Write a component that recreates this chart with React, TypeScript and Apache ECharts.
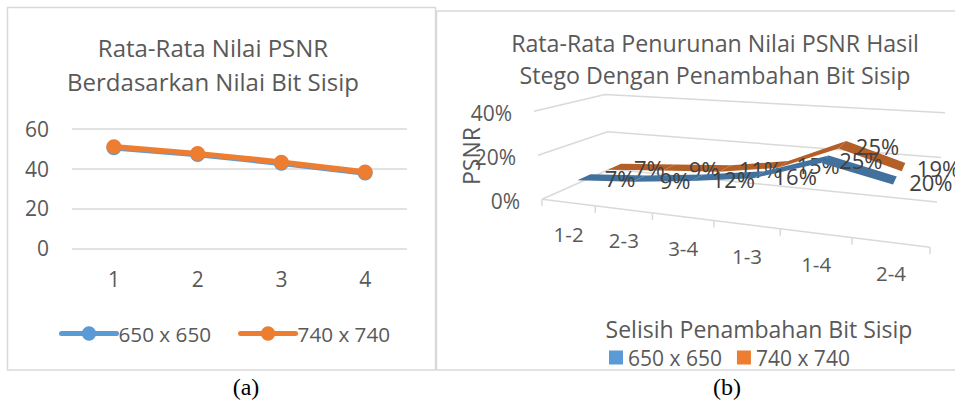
import React, { useEffect, useRef } from "react";
import * as echarts from "echarts";

const LEFT_TITLE = "Rata-Rata Nilai PSNR\nBerdasarkan Nilai Bit Sisip";
const RIGHT_TITLE = "Rata-Rata Penurunan Nilai PSNR Hasil\nStego Dengan Penambahan Bit Sisip";
const leftCategories = ["1", "2", "3", "4"];
const left650 = [50.5, 47, 42.7, 37.8];
const left740 = [51, 47.5, 43.2, 38.3];
const rightCategories = ["1-2", "2-3", "3-4", "1-3", "1-4", "2-4"];
const right650 = [7, 9, 12, 16, 25, 20];
const right740 = [7, 9, 11, 15, 25, 19];
const rightTicks = [0, 20, 40];

const FONT = '"Open Sans"';
const GREY = "#595959";
const LINE = "#d9d9d9";
const BLUE = "#5B9BD5";
const ORANGE = "#ED7D31";
const RIGHT_GRID = { left: 542, width: 388, top: 100, height: 104 };
const lerp = (a: number, b: number, t: number) => a + (b - a) * t;

// Perspective warp of the category direction; weaker towards the back wall.
const warp = (t: number, d: number) => {
  const k = 1 + 0.257 * (1 - d);
  return t / (t + k * (1 - t));
};
// Floor position for category fraction t and depth d (0 front, 1 back).
const floor = (t: number, d: number) => {
  const f = warp(t, d);
  return [
    lerp(lerp(542, 610, d), lerp(930, 937, d), f),
    lerp(lerp(199.3, 169, d), lerp(247.3, 202, d), f),
  ];
};
const project = (px: number, py: number, d: number, drop: number) => {
  const t = (px - RIGHT_GRID.left) / RIGHT_GRID.width;
  const h = RIGHT_GRID.top + RIGHT_GRID.height - py;
  const [x, y] = floor(t, d);
  return [x, y - h + drop];
};

const ribbon = (depth: number, drop: number, fill: string, values: number[], labelDx: number, labelDy: number) =>
  (params: any, api: any) => {
    const i = params.dataIndex;
    const children: any[] = [];
    const a = api.coord([i, api.value(1)]);
    if (i < values.length - 1) {
      const b = api.coord([i + 1, api.value(1, i + 1)]);
      const e = 0.095;
      children.push({
        type: "polygon",
        shape: {
          points: [
            project(a[0], a[1], depth + e, drop),
            project(b[0], b[1], depth + e, drop),
            project(b[0], b[1], depth - e, drop),
            project(a[0], a[1], depth - e, drop),
          ],
        },
        style: { fill },
      });
    }
    const p = project(a[0], a[1], depth, drop);
    children.push({
      type: "text",
      z2: 50,
      style: {
        text: `${api.value(1)}%`,
        x: p[0] + labelDx,
        y: p[1] + labelDy,
        fill: "#404040",
        font: `22px ${FONT}`,
        align: "center",
        verticalAlign: "middle",
      },
    });
    return { type: "group", children };
  };

const renderGridline = (_: any, api: any) => {
  const v = api.value(0);
  const front = [542 - (v / 40) * 8, 199.3 - v * 2.2];
  const back = [610 - (v / 40) * 5, 169 - v * 1.86];
  const right = [937 + (v / 40) * 8, 202 - v * 2.23];
  return {
    type: "group",
    children: [
      {
        type: "polyline",
        shape: { points: [front, back, right] },
        style: { stroke: LINE, lineWidth: 1.5, fill: "none" },
      },
      {
        type: "text",
        style: {
          text: `${v}%`,
          x: front[0] - 22,
          y: front[1] + 2,
          fill: GREY,
          font: `21px ${FONT}`,
          align: "right",
          verticalAlign: "middle",
        },
      },
    ],
  };
};

const renderCategory = (params: any, api: any) => {
  const i = params.dataIndex;
  const c = api.coord([i, 0]);
  const band = api.size([1, 0])[0];
  const tick = (px: number) => {
    const [x, y] = floor((px - RIGHT_GRID.left) / RIGHT_GRID.width, 0);
    return {
      type: "line",
      shape: { x1: x, y1: y, x2: x, y2: y + 7 },
      style: { stroke: LINE, lineWidth: 1.5 },
    };
  };
  const mid = (floor(i / 6, 0)[0] + floor((i + 1) / 6, 0)[0]) / 2;
  const midY = floor((i + 0.5) / 6, 0)[1];
  const children: any[] = [
    tick(c[0] - band / 2),
    {
      type: "text",
      style: {
        text: rightCategories[i],
        x: mid,
        y: midY + 31,
        fill: GREY,
        font: `20.5px ${FONT}`,
        align: "center",
        verticalAlign: "middle",
      },
    },
  ];
  if (i === rightCategories.length - 1) {
    children.push(tick(c[0] + band / 2));
    const p0 = floor(0, 0);
    const p1 = floor(1, 0);
    children.push({
      type: "line",
      shape: { x1: p0[0], y1: p0[1], x2: p1[0], y2: p1[1] },
      style: { stroke: LINE, lineWidth: 1.5 },
    });
  }
  return { type: "group", children };
};

const caption = (text: string, x: number) => ({
  type: "text",
  x,
  y: 387,
  style: { text, fill: "#000", font: '24px "Liberation Serif"', align: "center", verticalAlign: "middle" },
});

export default function App() {
  const ref = useRef<HTMLDivElement>(null);
  useEffect(() => {
    const chart = echarts.init(ref.current!, null, { renderer: "svg" });
    const lineSeries = (name: string, data: number[], color: string, z: number) => ({
      type: "line",
      name,
      data,
      xAxisIndex: 0,
      yAxisIndex: 0,
      z,
      symbol: "circle",
      symbolSize: 15,
      lineStyle: { color, width: 5.5, cap: "round" },
      itemStyle: { color },
    });
    chart.setOption({
      animation: false,
      backgroundColor: "#fff",
      textStyle: { fontFamily: FONT },
      title: [
        {
          text: LEFT_TITLE,
          left: 208,
          top: 25,
          textAlign: "center",
          textStyle: { fontFamily: FONT, fontSize: 24, fontWeight: "normal", color: GREY, lineHeight: 34 },
        },
        {
          text: RIGHT_TITLE,
          left: 710,
          top: 22,
          textAlign: "center",
          textStyle: { fontFamily: FONT, fontSize: 23.2, fontWeight: "normal", color: GREY, lineHeight: 32 },
        },
      ],
      grid: [
        { left: 72, top: 128.7, width: 335, height: 119.6 },
        RIGHT_GRID,
      ],
      xAxis: [
        {
          type: "category",
          gridIndex: 0,
          data: leftCategories,
          axisLine: { show: false },
          axisTick: { show: false },
          axisLabel: { color: GREY, fontFamily: FONT, fontSize: 21, margin: 20 },
        },
        { type: "category", gridIndex: 1, data: rightCategories, show: false },
      ],
      yAxis: [
        {
          type: "value",
          gridIndex: 0,
          min: 0,
          max: 60,
          interval: 20,
          axisLine: { show: false },
          axisTick: { show: false },
          axisLabel: { color: GREY, fontFamily: FONT, fontSize: 21, margin: 23 },
          splitLine: { lineStyle: { color: LINE, width: 1.5 } },
        },
        { type: "value", gridIndex: 1, min: 0, max: 40, interval: 20, show: false },
      ],
      legend: [
        {
          data: ["650 x 650", "740 x 740"],
          left: 59,
          top: 323,
          itemWidth: 55,
          itemHeight: 18,
          itemGap: 27,
          lineStyle: { width: 5 },
          textStyle: { color: GREY, fontFamily: FONT, fontSize: 20.7, padding: [0, 0, 0, -3] },
          padding: 0,
        },
        {
          data: [
            { name: "650 x 650 b", icon: "rect" },
            { name: "740 x 740 b", icon: "rect" },
          ],
          left: 609,
          top: 347,
          itemWidth: 14,
          itemHeight: 14,
          itemGap: 15,
          formatter: (n: string) => n.replace(" b", ""),
          textStyle: { color: GREY, fontFamily: FONT, fontSize: 21 },
          padding: 0,
        },
      ],
      graphic: [
        {
          type: "rect",
          z: -10,
          shape: { x: 7.5, y: 7.5, width: 428, height: 362.5 },
          style: { fill: "none", stroke: LINE, lineWidth: 1.5 },
        },
        {
          type: "polyline",
          z: -10,
          shape: { points: [[955, 11], [436.5, 11], [436.5, 370], [955, 370]] },
          style: { fill: "none", stroke: LINE, lineWidth: 1.5 },
        },
        caption("(a)", 246),
        caption("(b)", 727),
        {
          type: "text",
          x: 759,
          y: 329,
          style: { text: "Selisih Penambahan Bit Sisip", fill: GREY, font: `23px ${FONT}`, align: "center", verticalAlign: "middle" },
        },
        {
          type: "text",
          x: 471,
          y: 156,
          rotation: Math.PI / 2,
          style: { text: "PSNR", fill: GREY, font: `23px ${FONT}`, align: "center", verticalAlign: "middle" },
        },
      ],
      series: [
        lineSeries("650 x 650", left650, BLUE, 2),
        lineSeries("740 x 740", left740, ORANGE, 3),
        {
          type: "custom",
          xAxisIndex: 1,
          yAxisIndex: 1,
          z: 1,
          silent: true,
          clip: false,
          data: rightTicks.map((v) => [v]),
          encode: { x: -1, y: 0 },
          renderItem: renderGridline,
        },
        {
          type: "custom",
          xAxisIndex: 1,
          yAxisIndex: 1,
          z: 1,
          silent: true,
          data: rightCategories.map((c) => [c, 0]),
          encode: { x: 0, y: 1 },
          renderItem: renderCategory,
        },
        {
          type: "custom",
          name: "740 x 740 b",
          xAxisIndex: 1,
          yAxisIndex: 1,
          z: 2,
          silent: true,
          itemStyle: { color: ORANGE },
          data: rightCategories.map((c, i) => [c, right740[i]]),
          encode: { x: 0, y: 1 },
          renderItem: ribbon(0.67, 3, "#B45F27", right740, 35, 1),
        },
        {
          type: "custom",
          name: "650 x 650 b",
          xAxisIndex: 1,
          yAxisIndex: 1,
          z: 3,
          silent: true,
          itemStyle: { color: BLUE },
          data: rightCategories.map((c, i) => [c, right650[i]]),
          encode: { x: 0, y: 1 },
          renderItem: ribbon(0.23, 0, "#41719C", right650, 36, 1),
        },
      ],
    });
    return () => chart.dispose();
  }, []);
  return <div ref={ref} style={{ position: "fixed", left: 0, top: 0, width: 955, height: 401 }} />;
}
